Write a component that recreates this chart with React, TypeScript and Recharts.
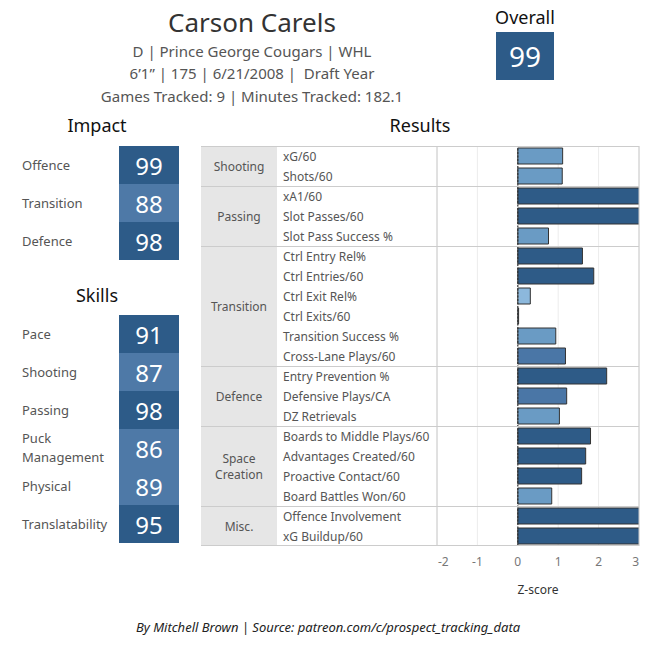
import React from 'react';
import { BarChart, Bar, XAxis, YAxis, CartesianGrid, ReferenceLine, Cell, Label } from 'recharts';

// ---------- data ----------
const playerName = 'Carson Carels';
const infoLines = [
  'D | Prince George Cougars | WHL',
  '6’1” | 175 | 6/21/2008 |  Draft Year',
  'Games Tracked: 9 | Minutes Tracked: 182.1',
];
const overallScore = 99;

const impactLabels = ['Offence', 'Transition', 'Defence'];
const impactScores = [99, 88, 98];

const skillLabels = ['Pace', 'Shooting', 'Passing', 'Puck\nManagement', 'Physical', 'Translatability'];
const skillScores = [91, 87, 98, 86, 89, 95];

const groupNames = ['Shooting', 'Passing', 'Transition', 'Defence', 'Space\nCreation', 'Misc.'];
const groupSizes = [2, 3, 6, 3, 4, 2];

const metricNames = [
  'xG/60', 'Shots/60',
  'xA1/60', 'Slot Passes/60', 'Slot Pass Success %',
  'Ctrl Entry Rel%', 'Ctrl Entries/60', 'Ctrl Exit Rel%', 'Ctrl Exits/60', 'Transition Success %', 'Cross-Lane Plays/60',
  'Entry Prevention %', 'Defensive Plays/CA', 'DZ Retrievals',
  'Boards to Middle Plays/60', 'Advantages Created/60', 'Proactive Contact/60', 'Board Battles Won/60',
  'Offence Involvement', 'xG Buildup/60',
];
const zScores = [
  1.11, 1.1,
  3.4, 3.6, 0.76,
  1.6, 1.88, 0.31, 0.02, 0.94, 1.18,
  2.2, 1.21, 1.03,
  1.8, 1.68, 1.58, 0.84,
  3.3, 3.5,
];
const xTicks = [-2, -1, 0, 1, 2, 3];
const footer = 'By Mitchell Brown | Source: patreon.com/c/prospect_tracking_data';

// ---------- derived ----------
const rowGroup: number[] = [];
const groupStart: number[] = [];
groupSizes.forEach((s, g) => {
  groupStart.push(rowGroup.length);
  for (let k = 0; k < s; k++) rowGroup.push(g);
});
const data = metricNames.map((name, i) => ({ name, z: zScores[i] }));

// ---------- styles ----------
const FONT = '"Noto Sans", "DejaVu Sans", sans-serif';
const DARK = '#2d5b88';
const MED = '#4e79a7';
const barColor = (v: number) => (v >= 1.5 ? '#2e5b87' : v >= 1.15 ? '#4a76a6' : v >= 0.5 ? '#6a9bc4' : '#8cb8dc');
const scoreColor = (v: number) => (v >= 90 ? DARK : MED);

const Y_AXIS_W = 236;
const GROUP_COL_W = 76;
const PLOT_W = 202;
const PLOT_H = 400;
const BAND = PLOT_H / metricNames.length;

const MetricTick = (props: any) => {
  const { x, y, payload } = props;
  const i = payload.index;
  const left = x - Y_AXIS_W;
  const top = y - BAND / 2;
  const g = rowGroup[i];
  const isFirst = groupStart[g] === i;
  const gLines = groupNames[g].split('\n');
  const gH = groupSizes[g] * BAND;
  const gCenter = top + gH / 2;
  return (
    <g>
      {isFirst && <rect x={left} y={top} width={GROUP_COL_W} height={gH} fill="#e6e6e6" />}
      <text x={left + GROUP_COL_W + 6} y={y} dominantBaseline="central" fontSize={12} fill="#555">
        {payload.value}
      </text>
      {isFirst && (
        <line x1={left} x2={x + PLOT_W} y1={Math.round(top) + 0.5} y2={Math.round(top) + 0.5} stroke="#cccccc" />
      )}
      {isFirst &&
        gLines.map((t, k) => (
          <text
            key={k}
            x={left + GROUP_COL_W / 2}
            y={gCenter + (k - (gLines.length - 1) / 2) * 16}
            textAnchor="middle"
            dominantBaseline="central"
            fontSize={12}
            fill="#555"
          >
            {t}
          </text>
        ))}
      {i === metricNames.length - 1 && (
        <line x1={left} x2={x + PLOT_W} y1={Math.round(top + BAND) - 0.5} y2={Math.round(top + BAND) - 0.5} stroke="#cccccc" />
      )}
    </g>
  );
};

const ZTick = (props: any) => {
  const { x, y, payload, index } = props;
  const anchor = index === 0 ? 'start' : index === xTicks.length - 1 ? 'end' : 'middle';
  const dx = index === 0 ? 1 : 0;
  return (
    <text x={x + dx} y={y} dy="0.71em" textAnchor={anchor} fontSize={12} fill="#777">
      {payload.value}
    </text>
  );
};

const ScoreRows = ({ labels, scores, top }: { labels: string[]; scores: number[]; top: number }) => (
  <>
    {labels.map((l, i) => (
      <React.Fragment key={l}>
        <div
          style={{
            position: 'absolute',
            left: 22,
            top: top + i * 38,
            height: 38,
            width: 96,
            display: 'flex',
            alignItems: 'center',
            fontSize: 13,
            color: '#555',
            lineHeight: '19px',
            whiteSpace: 'pre-line',
          }}
        >
          {l}
        </div>
        <div
          style={{
            position: 'absolute',
            left: 119,
            top: top + i * 38,
            width: 60,
            height: 38,
            background: scoreColor(scores[i]),
            color: '#fff',
            fontSize: 24,
            display: 'flex',
            alignItems: 'center',
            justifyContent: 'center',
          }}
        >
          {scores[i]}
        </div>
      </React.Fragment>
    ))}
  </>
);

const centered = (cx: number, cy: number, size: number, color: string, extra: React.CSSProperties = {}) => ({
  position: 'absolute' as const,
  left: cx - 250,
  width: 500,
  top: cy - size,
  height: size * 2,
  lineHeight: `${size * 2}px`,
  textAlign: 'center' as const,
  fontSize: size,
  color,
  whiteSpace: 'pre' as const,
  ...extra,
});

export default function App() {
  return (
    <div
      style={{
        position: 'absolute',
        left: 0,
        top: 0,
        width: 662,
        height: 668,
        background: '#fff',
        fontFamily: FONT,
        overflow: 'hidden',
      }}
    >
      <div style={centered(252, 22, 26, '#333')}>{playerName}</div>
      {infoLines.map((t, i) => (
        <div key={i} style={centered(252, [51, 73, 96][i], 15, '#555')}>
          {t}
        </div>
      ))}
      <div style={centered(525, 17, 18, '#111')}>Overall</div>
      <div
        style={{
          position: 'absolute',
          left: 496,
          top: 32,
          width: 58,
          height: 48,
          background: scoreColor(overallScore),
          color: '#fff',
          fontSize: 28,
          display: 'flex',
          alignItems: 'center',
          justifyContent: 'center',
        }}
      >
        {overallScore}
      </div>

      <div style={centered(97, 125, 18, '#111')}>Impact</div>
      <div style={centered(420, 125, 18, '#111')}>Results</div>
      <div style={centered(97, 295, 18, '#111')}>Skills</div>

      <ScoreRows labels={impactLabels} scores={impactScores} top={146} />
      <ScoreRows labels={skillLabels} scores={skillScores} top={315} />

      <div style={{ position: 'absolute', left: 201, top: 146 }}>
        <BarChart
          width={Y_AXIS_W + PLOT_W + 4}
          height={PLOT_H + 55}
          data={data}
          layout="vertical"
          margin={{ top: 0, right: 4, bottom: 0, left: 0 }}
        >
          <CartesianGrid vertical horizontal={false} stroke="#ececec" />
          <XAxis
            type="number"
            dataKey="z"
            domain={[-2, 3]}
            ticks={xTicks}
            allowDataOverflow
            axisLine={false}
            tickLine={false}
            tickSize={0}
            tickMargin={11}
            height={55}
            tick={(p: any) => <ZTick {...p} />}
          >
            <Label value="Z-score" position="insideBottom" offset={7} fontSize={12} fill="#333" />
          </XAxis>
          <YAxis
            type="category"
            dataKey="name"
            width={Y_AXIS_W}
            interval={0}
            tickSize={0}
            tickMargin={0}
            tickLine={false}
            axisLine={{ stroke: '#cccccc' }}
            tick={(p: any) => <MetricTick {...p} />}
          />
          <ReferenceLine x={3} stroke="#cccccc" />
          <Bar dataKey="z" barSize={16} stroke="#333" strokeWidth={1} isAnimationActive={false}>
            {data.map((d, i) => (
              <Cell key={i} fill={barColor(d.z)} />
            ))}
          </Bar>
          <ReferenceLine x={0} stroke="#333" strokeDasharray="2 1.5" strokeWidth={1.2} />
        </BarChart>
      </div>

      <div style={centered(328, 627, 13, '#222', { fontStyle: 'italic' })}>{footer}</div>
    </div>
  );
}
